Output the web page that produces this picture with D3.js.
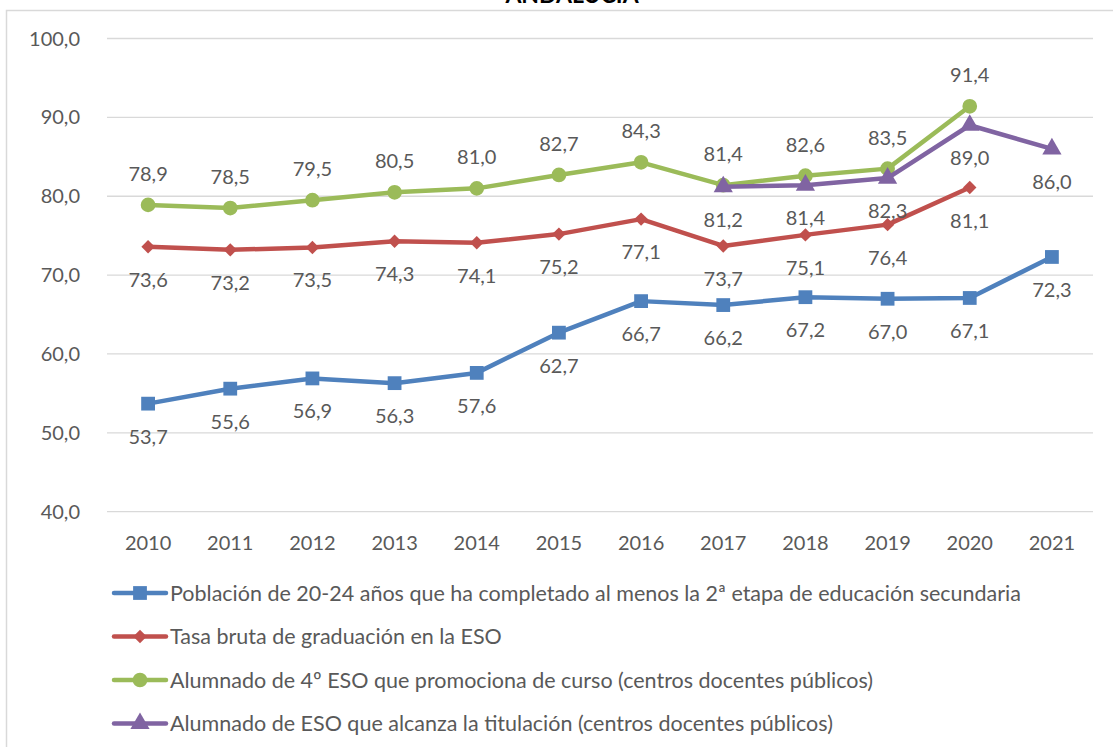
<!DOCTYPE html>
<html>
<head>
<meta charset="utf-8">
<script src="https://cdn.jsdelivr.net/npm/d3@7"></script>
<style>
  body { margin: 0; background: #fff; }
  svg text { font-family: Lato, "Open Sans", sans-serif; fill: #595959; }
</style>
</head>
<body>
<svg id="chart" width="1113" height="747"></svg>
<script>
// data (ANDALUCÍA)
var years = ["2010","2011","2012","2013","2014","2015","2016","2017","2018","2019","2020","2021"];
var poblacion = [53.7, 55.6, 56.9, 56.3, 57.6, 62.7, 66.7, 66.2, 67.2, 67.0, 67.1, 72.3];
var tasaBruta = [73.6, 73.2, 73.5, 74.3, 74.1, 75.2, 77.1, 73.7, 75.1, 76.4, 81.1, null];
var promociona = [78.9, 78.5, 79.5, 80.5, 81.0, 82.7, 84.3, 81.4, 82.6, 83.5, 91.4, null];
var titulacion = [null, null, null, null, null, null, null, 81.2, 81.4, 82.3, 89.0, 86.0];
var yTicks = [40, 50, 60, 70, 80, 90, 100];

var series = [
  { name: "Población de 20-24 años que ha completado al menos la 2ª etapa de educación secundaria", values: poblacion, color: "#4F81BD", symbol: d3.symbolSquare, size: 190, rotate: 0, labelPos: "below" },
  { name: "Tasa bruta de graduación en la ESO", values: tasaBruta, color: "#C0504D", symbol: d3.symbolSquare, size: 90, rotate: 45, labelPos: "below" },
  { name: "Alumnado de 4º ESO que promociona de curso (centros docentes públicos)", values: promociona, color: "#9BBB59", symbol: d3.symbolCircle, size: 170, rotate: 0, labelPos: "above" },
  { name: "Alumnado de ESO que alcanza la titulación (centros docentes públicos)", values: titulacion, color: "#8064A2", symbol: d3.symbolTriangle, size: 160, rotate: 0, labelPos: "below" }
];

var svg = d3.select("#chart");
var fmt = function(v) { return d3.format(".1f")(v).replace(".", ","); };

// frame (only top and left edges are visible in the crop)
svg.append("path")
  .attr("d", "M6.5,747 V10.5 H1113")
  .attr("fill", "none")
  .attr("stroke", "#D9D9D9")
  .attr("stroke-width", 1.5);

// title, mostly cut off at the top
svg.append("text")
  .attr("x", 572).attr("y", 3)
  .attr("text-anchor", "middle")
  .style("font-weight", "bold")
  .style("font-size", "23px")
  .style("fill", "#000")
  .text("ANDALUCÍA");

var plotLeft = 107, plotRight = 1093, plotTop = 38.5, plotBottom = 511.7;

var x = d3.scaleBand().domain(years).range([plotLeft, plotRight]);
var y = d3.scaleLinear().domain([40, 100]).range([plotBottom, plotTop]);
var cx = function(i) { return x(years[i]) + x.bandwidth() / 2; };

// gridlines
svg.append("g").selectAll("line")
  .data(yTicks)
  .enter().append("line")
    .attr("x1", plotLeft).attr("x2", plotRight)
    .attr("y1", d => y(d)).attr("y2", d => y(d))
    .attr("stroke", "#D9D9D9")
    .attr("stroke-width", 1.3);

// y axis labels
svg.append("g").selectAll("text")
  .data(yTicks)
  .enter().append("text")
    .attr("x", 80).attr("y", d => y(d))
    .attr("dy", "0.35em")
    .attr("text-anchor", "end")
    .style("font-size", "20px")
    .text(d => fmt(d));

// x axis labels
svg.append("g").selectAll("text")
  .data(years)
  .enter().append("text")
    .attr("x", (d, i) => cx(i)).attr("y", 543)
    .attr("dy", "0.35em")
    .attr("text-anchor", "middle")
    .style("font-size", "20px")
    .text(d => d);

var line = d3.line()
  .defined(d => d != null)
  .x((d, i) => cx(i))
  .y(d => y(d));

series.forEach(function(s) {
  var g = svg.append("g");
  g.append("path")
    .datum(s.values)
    .attr("d", line)
    .attr("fill", "none")
    .attr("stroke", s.color)
    .attr("stroke-width", 4.5)
    .attr("stroke-linejoin", "round")
    .attr("stroke-linecap", "round");

  var pts = s.values.map((v, i) => ({ v: v, i: i })).filter(d => d.v != null);
  g.selectAll("path.mark")
    .data(pts)
    .enter().append("path")
      .attr("class", "mark")
      .attr("d", d3.symbol().type(s.symbol).size(s.size))
      .attr("transform", d => `translate(${cx(d.i)},${y(d.v)}) rotate(${s.rotate})`)
      .attr("fill", s.color);

  g.selectAll("text")
    .data(pts)
    .enter().append("text")
      .attr("x", d => cx(d.i))
      .attr("y", d => y(d.v) + (s.labelPos == "above" ? -31 : 33))
      .attr("dy", "0.35em")
      .attr("text-anchor", "middle")
      .style("font-size", "20px")
      .text(d => fmt(d.v));
});

// legend
var legend = svg.append("g").selectAll("g")
  .data(series)
  .enter().append("g")
    .attr("transform", (d, i) => `translate(0,${593 + i * 43.5})`);

legend.append("line")
  .attr("x1", 114).attr("x2", 166)
  .attr("stroke", d => d.color)
  .attr("stroke-width", 4.5)
  .attr("stroke-linecap", "round");

legend.append("path")
  .attr("d", d => d3.symbol().type(d.symbol).size(d.size)())
  .attr("transform", d => `translate(140,0) rotate(${d.rotate})`)
  .attr("fill", d => d.color);

legend.append("text")
  .attr("x", 170).attr("dy", "0.35em")
  .style("font-size", "21.5px")
  .text(d => d.name);
</script>
</body>
</html>
